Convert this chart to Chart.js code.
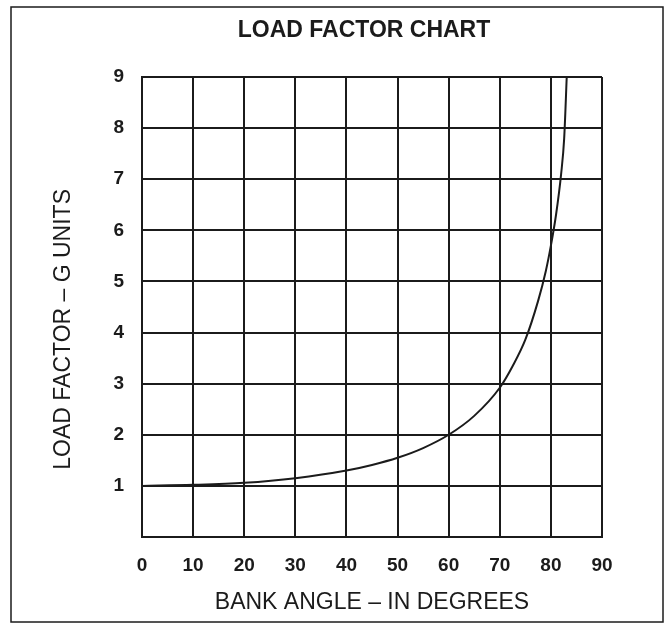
<!DOCTYPE html>
<html>
<head>
<meta charset="utf-8">
<script src="https://cdn.jsdelivr.net/npm/chart.js@4/dist/chart.umd.min.js"></script>
<style>
  html, body { margin: 0; padding: 0; background: #fff; }
  #wrap { width: 668px; height: 624px; }
</style>
</head>
<body>
<div id="wrap"><canvas id="chart" width="668" height="624"></canvas></div>
<script>
// values
const bankAngles = [0, 10, 20, 30, 40, 45, 50, 55, 60, 65, 70, 72.5, 75, 77.5, 79, 80, 81, 82, 82.6, 83.1];
const loadFactors = [1.0, 1.02, 1.06, 1.15, 1.3, 1.41, 1.55, 1.74, 2.0, 2.37, 2.92, 3.34, 3.86, 4.62, 5.2, 5.7, 6.3, 7.1, 7.8, 9.0];
const xTicks = [0, 10, 20, 30, 40, 50, 60, 70, 80, 90];
const yTicks = [1, 2, 3, 4, 5, 6, 7, 8, 9];

const ink = '#1b1b1b';
const fontFamily = '"Liberation Sans", Arial, Helvetica, sans-serif';

// page frame + title
const framePlugin = {
  id: 'frame',
  beforeDraw(chart) {
    const ctx = chart.ctx;
    ctx.save();
    ctx.fillStyle = '#fff';
    ctx.fillRect(0, 0, chart.width, chart.height);
    ctx.strokeStyle = ink;
    ctx.lineWidth = 1.5;
    ctx.strokeRect(11, 7, 652, 615);
    ctx.fillStyle = ink;
    ctx.font = 'bold 23px ' + fontFamily;
    ctx.textAlign = 'center';
    ctx.textBaseline = 'middle';
    ctx.fillText('LOAD FACTOR CHART', 364, 31);
    ctx.restore();
  }
};

new Chart(document.getElementById('chart'), {
  type: 'line',
  data: {
    datasets: [{
      data: bankAngles.map((a, i) => ({ x: a, y: loadFactors[i] })),
      borderColor: ink,
      borderWidth: 2,
      pointRadius: 0,
      cubicInterpolationMode: 'monotone',
      fill: false
    }]
  },
  options: {
    responsive: false,
    animation: false,
    layout: { padding: { top: 77, right: 66, bottom: 0, left: 0 } },
    plugins: {
      legend: { display: false },
      tooltip: { enabled: false }
    },
    scales: {
      x: {
        type: 'linear',
        min: 0,
        max: 90,
        afterFit(axis) { axis.height = 87; },
        afterBuildTicks(axis) { axis.ticks = xTicks.map(v => ({ value: v })); },
        grid: { color: ink, lineWidth: 2, drawTicks: false },
        border: { color: ink, width: 2 },
        ticks: { color: ink, padding: 17, font: { family: fontFamily, size: 19, weight: 'bold' } },
        title: {
          display: true,
          text: 'BANK ANGLE – IN DEGREES',
          color: ink,
          padding: { top: 0, bottom: 8 },
          font: { family: fontFamily, size: 23 }
        }
      },
      y: {
        type: 'linear',
        min: 0,
        max: 9,
        afterFit(axis) { axis.width = 142; },
        afterBuildTicks(axis) { axis.ticks = [0].concat(yTicks).map(v => ({ value: v })); },
        grid: { color: ink, lineWidth: 2, drawTicks: false },
        border: { color: ink, width: 2 },
        ticks: {
          color: ink,
          padding: 18,
          font: { family: fontFamily, size: 19, weight: 'bold' },
          callback: v => (v === 0 ? '' : v)
        },
        title: {
          display: true,
          text: 'LOAD FACTOR – G UNITS' + '\u00a0'.repeat(7),
          color: ink,
          padding: { top: 50, bottom: 0 },
          font: { family: fontFamily, size: 23 }
        }
      }
    }
  },
  plugins: [framePlugin]
});
</script>
</body>
</html>
